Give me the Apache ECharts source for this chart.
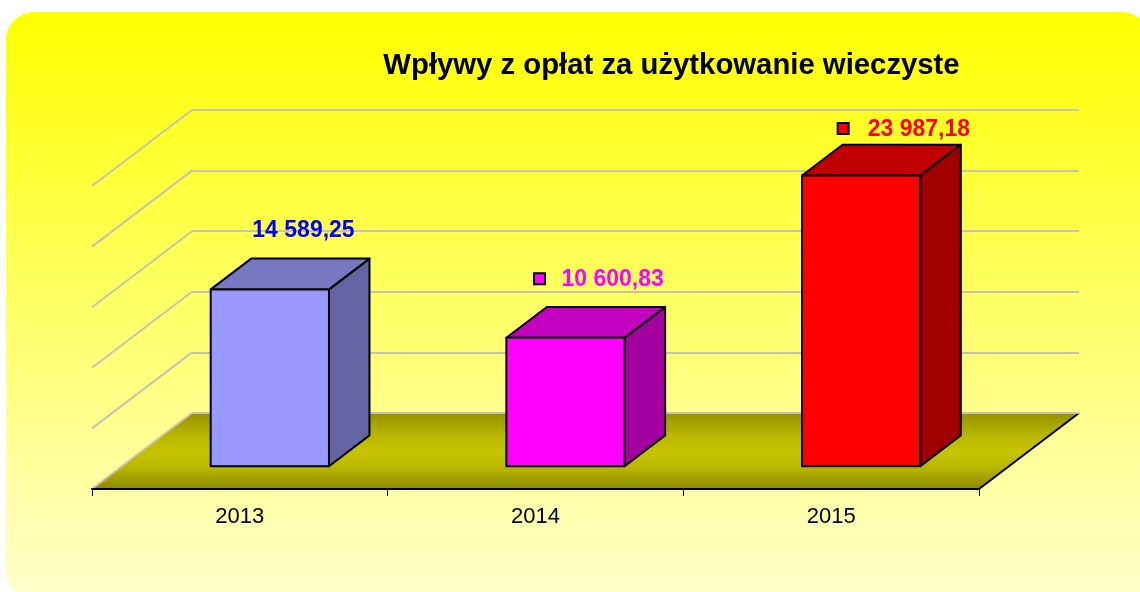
<!DOCTYPE html>
<html><head><meta charset="utf-8">
<style>html,body{margin:0;padding:0;background:#fff}#c{width:1140px;height:592px}</style>
<script src="https://cdn.jsdelivr.net/npm/echarts@6/dist/echarts.min.js"></script>
</head><body><div id="c"></div>
<script>
const chartTitle = 'Wpływy z opłat za użytkowanie wieczyste';
const categories = ['2013', '2014', '2015'];
const values = [14589.25, 10600.83, 23987.18];
const valueLabels = ['14 589,25', '10 600,83', '23 987,18'];
const yTicks = [0, 5000, 10000, 15000, 20000, 25000];

// styles and layout
const frontColors = ['#9999ff', '#ff00ff', '#ff0000'];
const topColors = ['#7878c2', '#c400c0', '#c00000'];
const sideColors = ['#6464a4', '#a400a0', '#a00000'];
const labelColors = ['#0000ff', '#ff00ff', '#ff0000'];
const hasMarker = [false, true, true];
const labelDx = [-17.5, -4, 6.5];    // label left, relative to bar front centre
const labelDy = [-59, -58, -46];     // label middle, relative to bar front top
const markerDx = [0, -26, -18];
const depth = [100, -76];            // floor depth vector
const barFrontAt = 0.30, barBackAt = 0.705, barWidthRatio = 0.40;
const gridColor = '#c4c4b4';
const FONT = '"Liberation Sans", Arial, sans-serif';

function renderBar(params, api) {
  const i = api.value(0), v = api.value(1);
  const top = api.coord([i, v]), base = api.coord([i, 0]);
  const w = api.size([1, 0])[0] * barWidthRatio;
  const fx = top[0] + depth[0] * barFrontAt - w / 2;
  const ft = top[1] + depth[1] * barFrontAt;
  const fb = base[1] + depth[1] * barFrontAt;
  const ox = depth[0] * (barBackAt - barFrontAt), oy = depth[1] * (barBackAt - barFrontAt);
  const line = { stroke: '#000', lineWidth: 2, lineJoin: 'round' };
  const cx = fx + w / 2;
  const children = [
    { type: 'polygon', shape: { points: [[fx + w, ft], [fx + w + ox, ft + oy], [fx + w + ox, fb + oy], [fx + w, fb]] }, style: Object.assign({ fill: sideColors[i] }, line) },
    { type: 'polygon', shape: { points: [[fx, ft], [fx + ox, ft + oy], [fx + w + ox, ft + oy], [fx + w, ft]] }, style: Object.assign({ fill: topColors[i] }, line) },
    { type: 'rect', shape: { x: fx, y: ft, width: w, height: fb - ft }, style: Object.assign({ fill: frontColors[i] }, line) },
    { type: 'text', x: cx + labelDx[i], y: ft + labelDy[i], style: { text: valueLabels[i], fill: labelColors[i], font: 'bold 23px ' + FONT, textAlign: 'left', textVerticalAlign: 'middle' } }
  ];
  if (hasMarker[i]) {
    children.push({ type: 'rect', shape: { x: cx + markerDx[i] - 5.5, y: ft + labelDy[i] - 6.5, width: 11, height: 11 }, style: { fill: frontColors[i], stroke: '#000', lineWidth: 2 } });
  }
  return { type: 'group', children };
}

function renderFloor(params, api) {
  const c = params.coordSys;
  const l = c.x, r = c.x + c.width, b = c.y + c.height;
  return {
    type: 'group',
    children: [
      {
        type: 'polygon',
        shape: { points: [[l, b], [l + depth[0], b + depth[1]], [r + depth[0], b + depth[1]], [r, b]] },
        style: {
          fill: new echarts.graphic.LinearGradient(0, 0, 0, 1, [
            { offset: 0, color: '#969200' },
            { offset: 0.3, color: '#b9b600' },
            { offset: 0.5, color: '#c6c300' },
            { offset: 0.72, color: '#b9b600' },
            { offset: 1, color: '#8c8900' }
          ])
        }
      },
      { type: 'line', shape: { x1: r, y1: b, x2: r + depth[0], y2: b + depth[1] }, style: { stroke: '#000', lineWidth: 2 } }
    ]
  };
}

function renderDiagonal(params, api) {
  const p = api.coord([0, api.value(0)]);
  const x = params.coordSys.x;
  return { type: 'line', shape: { x1: x, y1: p[1], x2: x - depth[0], y2: p[1] - depth[1] }, style: { stroke: gridColor, lineWidth: 2 } };
}

const chart = echarts.init(document.getElementById('c'), null, { renderer: 'canvas' });
chart.setOption({
  animation: false,
  title: {
    text: chartTitle, left: 671.5, top: 51, textAlign: 'center', padding: 0,
    textStyle: { fontFamily: FONT, fontWeight: 'bold', fontSize: 29.3, color: '#000' }
  },
  graphic: [{
    type: 'rect', z: -100, silent: true,
    shape: { x: 6, y: 12, width: 1144, height: 586, r: 28 },
    style: {
      fill: new echarts.graphic.LinearGradient(0, 0, 0, 1, [
        { offset: 0, color: '#ffff00' }, { offset: 1, color: '#ffffcc' }
      ])
    }
  }],
  grid: [
    { left: 92, top: 186, width: 887, height: 303 },
    { left: 192, top: 110, width: 887, height: 303 }
  ],
  xAxis: [
    {
      gridIndex: 0, type: 'category', data: categories, z: 6,
      axisLine: { lineStyle: { color: '#000', width: 2 } },
      axisTick: { show: true, length: 7, lineStyle: { color: '#000', width: 1 } },
      axisLabel: { color: '#000', fontFamily: FONT, fontSize: 22, margin: 17 }
    },
    { gridIndex: 1, type: 'category', data: categories, show: false }
  ],
  yAxis: [
    { gridIndex: 0, type: 'value', min: 0, max: 25000, interval: 5000, show: false },
    {
      gridIndex: 1, type: 'value', min: 0, max: 25000, interval: 5000, z: 2,
      axisLine: { show: false }, axisTick: { show: false }, axisLabel: { show: false },
      splitLine: { show: true, lineStyle: { color: gridColor, width: 2 } }
    }
  ],
  series: [
    { type: 'custom', xAxisIndex: 0, yAxisIndex: 0, z: 1, clip: false, data: [[0]], renderItem: renderFloor },
    { type: 'custom', xAxisIndex: 1, yAxisIndex: 1, z: 2, clip: false, data: yTicks.map(t => [t]), encode: { y: 0 }, renderItem: renderDiagonal },
    { type: 'custom', xAxisIndex: 0, yAxisIndex: 0, z: 3, clip: false, data: values.map((v, i) => [i, v]), encode: { x: 0, y: 1 }, renderItem: renderBar }
  ]
});
</script></body></html>
